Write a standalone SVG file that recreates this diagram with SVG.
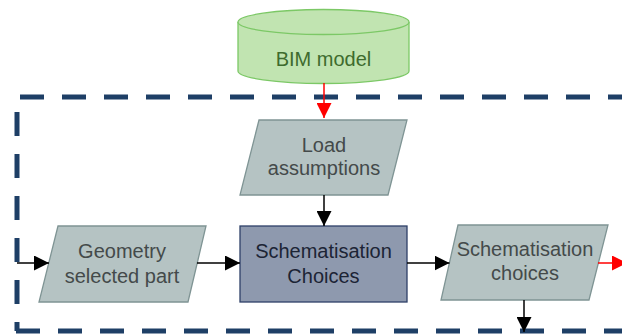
<svg xmlns="http://www.w3.org/2000/svg" width="622" height="334" viewBox="0 0 622 334">
  <style>
    .lbl { font-family: "Liberation Sans", Arial, sans-serif; font-size: 20px; text-anchor: middle; }
    .data { fill: #b5c3c3; stroke: #7f9494; stroke-width: 1.3; }
    .data-text { fill: #444a4a; }
    .proc { fill: #8e99ae; stroke: #2e4068; stroke-width: 1.3; }
    .proc-text { fill: #1c2435; }
    .db { fill: #c1e4b1; stroke: #7cc866; stroke-width: 1.3; }
    .db-text { fill: #3e6b2e; }
    .frame { fill: none; stroke: #1e3f66; stroke-width: 5; stroke-dasharray: 24 18; }
    .flow { fill: none; stroke: #000; stroke-width: 1.5; }
    .flow-red { fill: none; stroke: #ff0000; stroke-width: 1.5; }
  </style>
  <defs>
    <marker id="arrow-black" markerUnits="userSpaceOnUse" markerWidth="15" markerHeight="15" refX="15" refY="7.5" orient="auto">
      <path d="M0,0 L15,7.5 L0,15 z" fill="#000"/>
    </marker>
    <marker id="arrow-red" markerUnits="userSpaceOnUse" markerWidth="15" markerHeight="15" refX="15" refY="7.5" orient="auto">
      <path d="M0,0 L15,7.5 L0,15 z" fill="#ff0000"/>
    </marker>
  </defs>

  <rect x="0" y="0" width="622" height="334" fill="#ffffff"/>

  <!-- dashed boundary of the design step -->
  <g id="boundary">
    <path class="frame" d="M20,97 H640"/>
    <path class="frame" d="M17,112 V331"/>
    <path class="frame" d="M16,331 H640"/>
  </g>

  <!-- BIM model (database cylinder) -->
  <g id="bim-model">
    <path class="db" d="M238,22 V71 A85.5,12.5 0 0 0 409,71 V22"/>
    <ellipse class="db" cx="323.5" cy="22" rx="85.5" ry="12.5"/>
    <text class="lbl db-text" x="323.5" y="66">BIM model</text>
  </g>

  <!-- Load assumptions -->
  <g id="load-assumptions">
    <polygon class="data" points="259,120 407,120 388,195 240,195"/>
    <text class="lbl data-text" x="324" y="152">Load</text>
    <text class="lbl data-text" x="324" y="175">assumptions</text>
  </g>

  <!-- Geometry selected part -->
  <g id="geometry">
    <polygon class="data" points="58,226 206,226 188,302 39,302"/>
    <text class="lbl data-text" x="122" y="258">Geometry</text>
    <text class="lbl data-text" x="122" y="283">selected part</text>
  </g>

  <!-- Schematisation Choices (process) -->
  <g id="schematisation-process">
    <rect class="proc" x="240" y="226" width="167" height="76"/>
    <text class="lbl proc-text" x="323.5" y="258">Schematisation</text>
    <text class="lbl proc-text" x="323.5" y="283">Choices</text>
  </g>

  <!-- Schematisation choices (output) -->
  <g id="schematisation-output">
    <polygon class="data" points="458,225 608,225 589,300 441,300"/>
    <text class="lbl data-text" x="525" y="256">Schematisation</text>
    <text class="lbl data-text" x="525" y="280">choices</text>
  </g>

  <!-- connectors -->
  <g id="connectors">
    <line class="flow-red" x1="324" y1="83" x2="324" y2="118" marker-end="url(#arrow-red)"/>
    <line class="flow" x1="324" y1="195" x2="324" y2="226" marker-end="url(#arrow-black)"/>
    <line class="flow" x1="17" y1="263" x2="49" y2="263" marker-end="url(#arrow-black)"/>
    <line class="flow" x1="197" y1="263" x2="240" y2="263" marker-end="url(#arrow-black)"/>
    <line class="flow" x1="407" y1="263" x2="449.5" y2="263" marker-end="url(#arrow-black)"/>
    <line class="flow-red" x1="598" y1="263" x2="627" y2="263" marker-end="url(#arrow-red)"/>
    <line class="flow" x1="524" y1="300" x2="524" y2="332" marker-end="url(#arrow-black)"/>
  </g>
</svg>
